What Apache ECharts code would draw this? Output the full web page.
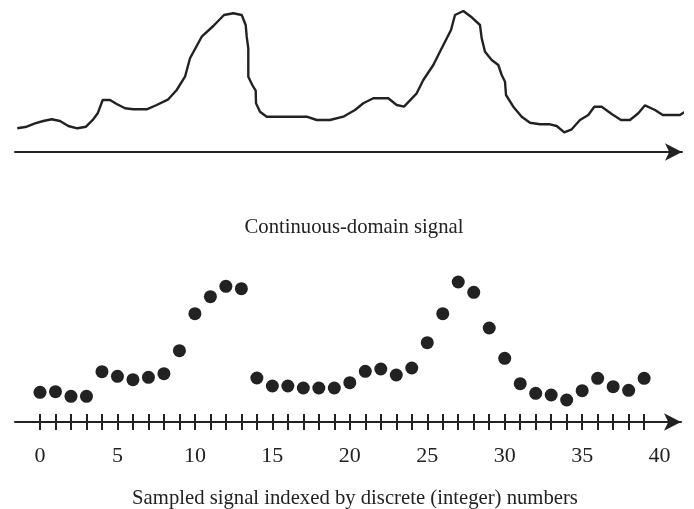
<!DOCTYPE html>
<html><head><meta charset="utf-8">
<script src="https://cdn.jsdelivr.net/npm/echarts@6/dist/echarts.min.js"></script>
<style>html,body{margin:0;padding:0;background:#fff}#c{width:694px;height:509px}</style>
</head><body><div id="c"></div>
<script>
// Continuous-domain signal: position along axis and height
const contX = [2.3,11.7,20,28.3,36.7,45,53.3,62.3,71,78.3,82.7,87.7,95,101.7,110,118.3,131.7,141.7,153.3,161.7,170,175,186.7,198.3,209,218.3,226.7,230.7,231.7,233.3,233.3,237.3,240.7,241,245,251.7,291.7,301.7,315,328.3,334.3,340,348.3,358.3,373.3,381.7,389,401.7,408.3,418.3,426.7,436,440,448.3,456.7,465,466.7,470,476.7,483.3,486.7,490,491,498.3,506.7,515,525,535,541.7,549.3,556.7,565,573.3,579.3,586.7,596.7,606,615,623.3,630,640,647.7,665,670];
const contY = [23.7,25.3,28.7,31,32.7,31,26,23.7,25.3,32.7,38.7,52,52,48,43.7,42.7,42.7,47,52.7,62,75.3,93.7,115.3,126,137,138.7,137,127,115.3,103.7,75.3,67,61.3,48.7,40.3,35.3,35.3,32,32,35.3,38.7,42,48.7,53.7,53.7,47,45.3,58.7,72,87,103.7,122,137,141,134.7,127,113.7,100.3,92,87,77,70.3,57,45.3,35.3,29.3,27.7,27.7,26,19.7,22.7,32,37,45.3,45.3,38,32,32,38.7,46.7,42,37,37,40.3];
// Sampled signal
const sampleIdx = [0,1,2,3,4,5,6,7,8,9,10,11,12,13,14,15,16,17,18,19,20,21,22,23,24,25,26,27,28,29,30,31,32,33,34,35,36,37,38,39];
const sampleVal = [29.7,30.3,25.7,25.7,50.3,45.7,42.3,44.7,48.3,71.3,108.3,125.3,135.7,133.3,44,36,36,34,34,34,39.3,50.7,53,47,54,79.3,108.3,140,129.7,94,63.7,38.3,28.7,27,22,31.3,43.7,35.3,31.7,43.7];
const tickValues = sampleIdx;
const tickLabels = [0,5,10,15,20,25,30,35,40];
const captions = ['Continuous-domain signal','Sampled signal indexed by discrete (integer) numbers'];

const ink = '#222';
const serif = "'Liberation Serif','DejaVu Serif',serif";
const chart = echarts.init(document.getElementById('c'), null, {renderer:'canvas'});
chart.setOption({
  animation:false,
  backgroundColor:'#fff',
  title:[
    {text:captions[0], left:349, top:212, textAlign:'center', textStyle:{fontFamily:serif,fontWeight:'normal',fontSize:20.7,color:ink}},
    {text:captions[1], left:350, top:483, textAlign:'center', textStyle:{fontFamily:serif,fontWeight:'normal',fontSize:20.7,color:ink}}
  ],
  grid:[
    {left:15, right:12, top:2, bottom:357},
    {left:15, right:13, top:262, bottom:87}
  ],
  xAxis:[
    {gridIndex:0, type:'value', min:0, max:667, axisLine:{show:true,lineStyle:{color:ink,width:2},symbol:['none','arrow'],symbolSize:[13,17]}, axisTick:{show:false}, axisLabel:{show:false}, splitLine:{show:false}},
    {gridIndex:1, type:'value', position:'bottom', min:-1.614, max:41.38, axisLine:{show:true,onZero:false,lineStyle:{color:ink,width:2},symbol:['none','arrow'],symbolSize:[13,17]},
      axisTick:{show:true,length:8,lineStyle:{color:ink,width:2},customValues:tickValues},
      axisLabel:{show:true,margin:23,fontFamily:serif,fontSize:22,color:ink,customValues:tickLabels},
      splitLine:{show:false}},
    {gridIndex:1, type:'value', position:'bottom', min:-1.614, max:41.38, axisLine:{show:false,onZero:false},
      axisTick:{show:true,inside:true,length:8,lineStyle:{color:ink,width:2},customValues:tickValues},
      axisLabel:{show:false}, splitLine:{show:false}}
  ],
  yAxis:[
    {gridIndex:0, type:'value', min:0, max:150, show:false},
    {gridIndex:1, type:'value', min:0, max:160, show:false}
  ],
  series:[
    {type:'line', xAxisIndex:0, yAxisIndex:0, data:contX.map((x,i)=>[x,contY[i]]), showSymbol:false, symbol:'none', clip:false, lineStyle:{color:ink,width:2.4}, smooth:false},
    {type:'scatter', xAxisIndex:1, yAxisIndex:1, data:sampleIdx.map((x,i)=>[x,sampleVal[i]]), symbol:'circle', symbolSize:13, itemStyle:{color:ink,opacity:1}}
  ]
});
</script></body></html>
